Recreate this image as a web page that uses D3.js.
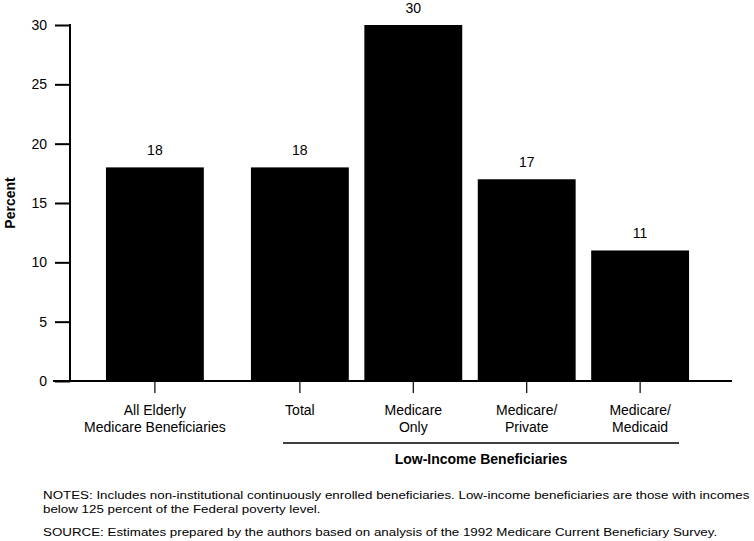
<!DOCTYPE html>
<html>
<head>
<meta charset="utf-8">
<script src="https://cdn.jsdelivr.net/npm/d3@7"></script>
<style>
  body { margin: 0; background: #fff; }
  svg { display: block; font-family: "Liberation Sans", Arial, sans-serif; }
</style>
</head>
<body>
<div id="chart-area"></div>
<script>
// data
const allLabel = ["All Elderly", "Medicare Beneficiaries"];
const allValue = 18;
const lowIncomeCats = ["Total", "Medicare Only", "Medicare/ Private", "Medicare/ Medicaid"];
const lowIncomeLabels = [["Total"], ["Medicare", "Only"], ["Medicare/", "Private"], ["Medicare/", "Medicaid"]];
const lowIncomeValues = [18, 30, 17, 11];
const yTicks = [0, 5, 10, 15, 20, 25, 30];
const groupTitle = "Low-Income Beneficiaries";
const notes = [
    "NOTES: Includes non-institutional continuously enrolled beneficiaries. Low-income beneficiaries are those with incomes",
    "below 125 percent of the Federal poverty level."
];
const source = "SOURCE: Estimates prepared by the authors based on analysis of the 1992 Medicare Current Beneficiary Survey.";

const width = 754;
const height = 541;

const svg = d3.select("#chart-area")
    .append("svg")
        .attr("width", width)
        .attr("height", height);

const yMapping = d3.scaleLinear()
    .domain([0, 30])
    .range([381, 25]);

// first bar sits on its own, the low-income bars are one group
const xAll = d3.scaleBand()
    .domain(["All"])
    .range([98, 212])
    .paddingInner(0.137)
    .paddingOuter(0.07);

const xLow = d3.scaleBand()
    .domain(lowIncomeCats)
    .range([243, 697])
    .paddingInner(0.137)
    .paddingOuter(0.07);

const barW = xLow.bandwidth();

// y axis
const yAxis = svg.append("g")
    .attr("transform", "translate(70,0)")
    .call(d3.axisLeft(yMapping).tickValues(yTicks).tickSize(15).tickPadding(8));
yAxis.select(".domain").remove();
yAxis.selectAll(".tick line").attr("stroke", "#000").attr("stroke-width", 2);
yAxis.selectAll(".tick text")
    .attr("font-size", 14)
    .attr("font-family", "Liberation Sans, Arial, sans-serif")
    .attr("fill", "#000");

svg.append("line")
    .attr("x1", 70).attr("x2", 70)
    .attr("y1", yMapping(30) - 1).attr("y2", yMapping(0))
    .attr("stroke", "#000").attr("stroke-width", 2);

svg.append("text")
    .attr("transform", `translate(15, ${yMapping(15)}) rotate(-90)`)
    .attr("text-anchor", "middle")
    .attr("font-size", 14)
    .attr("font-weight", "bold")
    .text("Percent");

// bars
const bars = [{x: xAll("All"), v: allValue}]
    .concat(lowIncomeCats.map((c, i) => ({x: xLow(c), v: lowIncomeValues[i]})));

svg.append("g")
    .selectAll("rect")
    .data(bars)
    .enter()
    .append("rect")
    .attr("x", d => d.x)
    .attr("y", d => yMapping(d.v))
    .attr("width", barW)
    .attr("height", d => yMapping(0) - yMapping(d.v))
    .attr("fill", "#000");

svg.append("g")
    .selectAll("text")
    .data(bars)
    .enter()
    .append("text")
    .attr("x", d => d.x + barW / 2)
    .attr("y", d => yMapping(d.v) - 12)
    .attr("text-anchor", "middle")
    .attr("font-size", 14)
    .text(d => d.v);

// baseline
svg.append("line")
    .attr("x1", 53).attr("x2", 732)
    .attr("y1", yMapping(0)).attr("y2", yMapping(0))
    .attr("stroke", "#000").attr("stroke-width", 2);

// category ticks and labels
const cats = [{x: xAll("All") + barW / 2, lines: allLabel}]
    .concat(lowIncomeLabels.map((l, i) => ({x: xLow(lowIncomeCats[i]) + barW / 2, lines: l})));

const catG = svg.append("g")
    .selectAll("g")
    .data(cats)
    .enter()
    .append("g")
    .attr("transform", d => `translate(${d.x}, ${yMapping(0)})`);

catG.append("line")
    .attr("y1", 0).attr("y2", 12)
    .attr("stroke", "#000").attr("stroke-width", 1.2);

catG.selectAll("text")
    .data(d => d.lines)
    .enter()
    .append("text")
    .attr("y", (d, i) => 34 + i * 17)
    .attr("text-anchor", "middle")
    .attr("font-size", 14)
    .text(d => d);

// group bracket
svg.append("line")
    .attr("x1", 283).attr("x2", 679)
    .attr("y1", 443).attr("y2", 443)
    .attr("stroke", "#000").attr("stroke-width", 1.5);

svg.append("text")
    .attr("x", (283 + 679) / 2)
    .attr("y", 464)
    .attr("text-anchor", "middle")
    .attr("font-size", 14)
    .attr("font-weight", "bold")
    .text(groupTitle);

// notes, stretched so the first line spans the same width as the original
const notesG = svg.append("g");

notesG.selectAll("text.note")
    .data(notes)
    .enter()
    .append("text")
    .attr("class", "note")
    .attr("x", 0)
    .attr("y", (d, i) => 499 + i * 14)
    .attr("font-size", 11.5)
    .text(d => d);

notesG.append("text")
    .attr("x", 0)
    .attr("y", 536)
    .attr("font-size", 11.5)
    .text(source);

const firstW = notesG.select("text.note").node().getComputedTextLength();
const stretch = 707 / firstW;
notesG.attr("transform", `translate(43,0) scale(${stretch},1)`);
</script>
</body>
</html>
